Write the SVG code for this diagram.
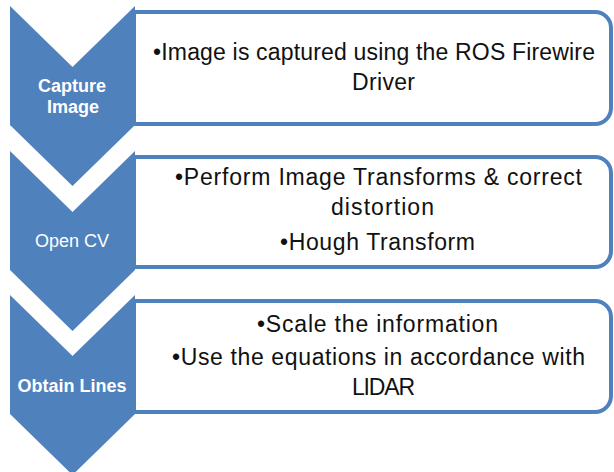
<svg xmlns="http://www.w3.org/2000/svg" width="614" height="472" viewBox="0 0 614 472">
  <style>
    .chev { fill: #4f81bd; }
    .box { fill: #ffffff; stroke: #4f81bd; stroke-width: 4; }
    .lbl { fill: #ffffff; font-family: "Liberation Sans", Arial, sans-serif; font-size: 18px; text-anchor: middle; }
    .bold { font-weight: bold; }
    .body { fill: #111111; font-family: "Liberation Sans", Arial, sans-serif; font-size: 23px; }
  </style>

  <!-- Detail panels (square left side, rounded right corners) -->
  <g id="panel-capture">
    <path class="box" d="M134,12 H595 A16,16 0 0 1 611,28 V108 A16,16 0 0 1 595,124 H134 Z"/>
    <text class="body" x="153" y="60" textLength="442">•Image is captured using the ROS Firewire</text>
    <text class="body" x="352" y="90" textLength="63">Driver</text>
  </g>
  <g id="panel-opencv">
    <path class="box" d="M134,157 H595 A16,16 0 0 1 611,173 V251 A16,16 0 0 1 595,267 H134 Z"/>
    <text class="body" x="175" y="185" textLength="407">•Perform Image Transforms &amp; correct</text>
    <text class="body" x="331" y="215" textLength="103">distortion</text>
    <text class="body" x="280" y="250" textLength="195">•Hough Transform</text>
  </g>
  <g id="panel-lines">
    <path class="box" d="M134,301 H595 A16,16 0 0 1 611,317 V396 A16,16 0 0 1 595,412 H134 Z"/>
    <text class="body" x="257" y="332" textLength="241">•Scale the information</text>
    <text class="body" x="172" y="365" textLength="413">•Use the equations in accordance with</text>
    <text class="body" x="352" y="395" textLength="63">LIDAR</text>
  </g>

  <!-- Step chevrons pointing down -->
  <g id="step-capture">
    <polygon class="chev" points="10,6 72.5,67 135,6 135,125 72.5,186 10,125"/>
    <text class="lbl bold" x="72" y="92">Capture</text>
    <text class="lbl bold" x="73" y="113">Image</text>
  </g>
  <g id="step-opencv">
    <polygon class="chev" points="10,151 72.5,212 135,151 135,270 72.5,331 10,270"/>
    <text class="lbl" x="72" y="247">Open CV</text>
  </g>
  <g id="step-lines">
    <polygon class="chev" points="10,295 72.5,356 135,295 135,414 72.5,475 10,414"/>
    <text class="lbl bold" x="72" y="392">Obtain Lines</text>
  </g>

  <!-- No separate connectors: the chevrons carry the flow -->
  <g id="connectors"/>
</svg>
